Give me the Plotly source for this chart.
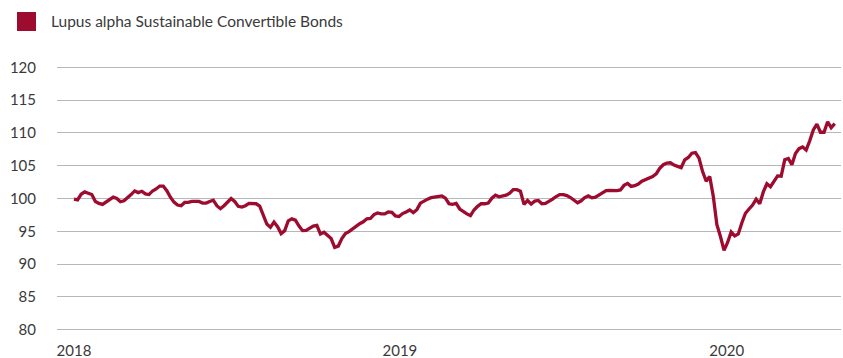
import pandas as pd
import plotly.graph_objects as go

# ---- data (4-day sampling) ----
series_name = "Lupus alpha Sustainable Convertible Bonds"
start_date = "2018-03-16"
step = "4D"
values = [
    99.9, 99.8, 100.65, 101.0, 100.8, 100.6, 99.55, 99.25, 99.1, 99.45,
    99.8, 100.2, 100.0, 99.5, 99.65, 100.05, 100.6, 101.15, 100.9, 101.1,
    100.7, 100.6, 101.15, 101.45, 101.9, 101.9, 101.2, 100.2, 99.45, 99.0,
    98.9, 99.4, 99.4, 99.55, 99.6, 99.55, 99.3, 99.3, 99.55, 99.75,
    98.9, 98.45, 98.9, 99.5, 100.0, 99.55, 98.8, 98.7, 98.9, 99.25,
    99.25, 99.2, 98.85, 97.3, 96.1, 95.6, 96.4, 95.7, 94.65, 95.1,
    96.6, 96.9, 96.7, 95.8, 95.1, 95.15, 95.45, 95.8, 95.9, 94.6,
    94.85, 94.4, 93.9, 92.55, 92.75, 93.9, 94.65, 94.95, 95.35, 95.85,
    96.15, 96.45, 96.9, 96.95, 97.55, 97.8, 97.65, 97.65, 97.95, 97.9,
    97.35, 97.25, 97.7, 97.95, 98.25, 97.85, 98.3, 99.3, 99.65, 99.9,
    100.12, 100.2, 100.3, 100.4, 100.05, 99.2, 99.1, 99.25, 98.4, 97.95,
    97.65, 97.4, 98.25, 98.8, 99.2, 99.2, 99.3, 100.05, 100.5, 100.25,
    100.4, 100.5, 100.8, 101.35, 101.35, 101.1, 99.1, 99.7, 99.15, 99.6,
    99.7, 99.2, 99.25, 99.55, 99.9, 100.3, 100.6, 100.6, 100.45, 100.15,
    99.8, 99.35, 99.65, 100.15, 100.4, 100.1, 100.2, 100.55, 100.95, 101.2,
    101.25, 101.2, 101.2, 101.3, 102.0, 102.3, 101.85, 101.95, 102.2, 102.65,
    102.9, 103.1, 103.35, 103.75, 104.6, 105.15, 105.4, 105.45, 105.1, 104.9,
    104.7, 105.9, 106.25, 106.9, 107.0, 106.15, 104.1, 102.65, 103.35, 100.3,
    96.0, 94.2, 92.1, 93.3, 94.9, 94.3, 94.6, 96.3, 97.75, 98.4,
    99.0, 99.9, 99.2, 101.0, 102.25, 101.8, 102.7, 103.45, 103.4, 105.9,
    106.1, 105.15, 106.85, 107.6, 107.85, 107.4, 108.8, 110.45, 111.35, 110.1,
    110.1, 111.7, 110.8, 111.4,
]
y_ticks = [80, 85, 90, 95, 100, 105, 110, 115, 120]

dates = pd.date_range(start_date, periods=len(values), freq=step)

# ---- style / layout constants ----
W, H = 843, 358
ML, MR, MT, MB = 57, 2, 66, 27
RED = "#9d0b2f"
TXT = "#3a3a3a"
FONT = "Lato"

plot_w = W - ML - MR
plot_h = H - MT - MB


def px_x(px):
    return (px - ML) / plot_w


def px_y(py):
    return (H - MB - py) / plot_h


fig = go.Figure()
fig.add_trace(go.Scatter(
    x=dates, y=values, mode="lines", name=series_name,
    line=dict(color=RED, width=3.3), showlegend=False,
))

d0 = pd.Timestamp(start_date)
fig.update_xaxes(
    type="date", automargin=False,
    range=[d0 - pd.Timedelta(days=19), d0 + pd.Timedelta(days=859)],
    tick0=start_date, dtick="M12", tickformat="%Y",
    showgrid=False, showline=False, zeroline=False, ticks="",
    ticklabelstandoff=9,
    tickfont=dict(family=FONT, size=15, color=TXT),
)
fig.update_yaxes(
    automargin=False,
    range=[79.8, 120.2], tickvals=y_ticks,
    showgrid=True, gridcolor="#b4b8bb", gridwidth=1.3,
    showline=False, zeroline=False, ticks="",
    ticklabelstandoff=20,
    tickfont=dict(family=FONT, size=15, color=TXT),
)

fig.add_shape(
    type="rect", xref="paper", yref="paper",
    x0=px_x(17), x1=px_x(36), y0=px_y(31), y1=px_y(12),
    fillcolor=RED, line=dict(width=0),
)
fig.add_annotation(
    text=series_name, xref="paper", yref="paper",
    x=px_x(49), y=px_y(21.5), xanchor="left", yanchor="middle",
    showarrow=False, font=dict(family=FONT, size=15.5, color=TXT),
)

fig.update_layout(
    width=W, height=H,
    margin=dict(l=ML, r=MR, t=MT, b=MB, pad=0, autoexpand=False),
    paper_bgcolor="white", plot_bgcolor="white",
    font=dict(family=FONT, color=TXT),
    showlegend=False,
)

fig.write_html("out.html")
